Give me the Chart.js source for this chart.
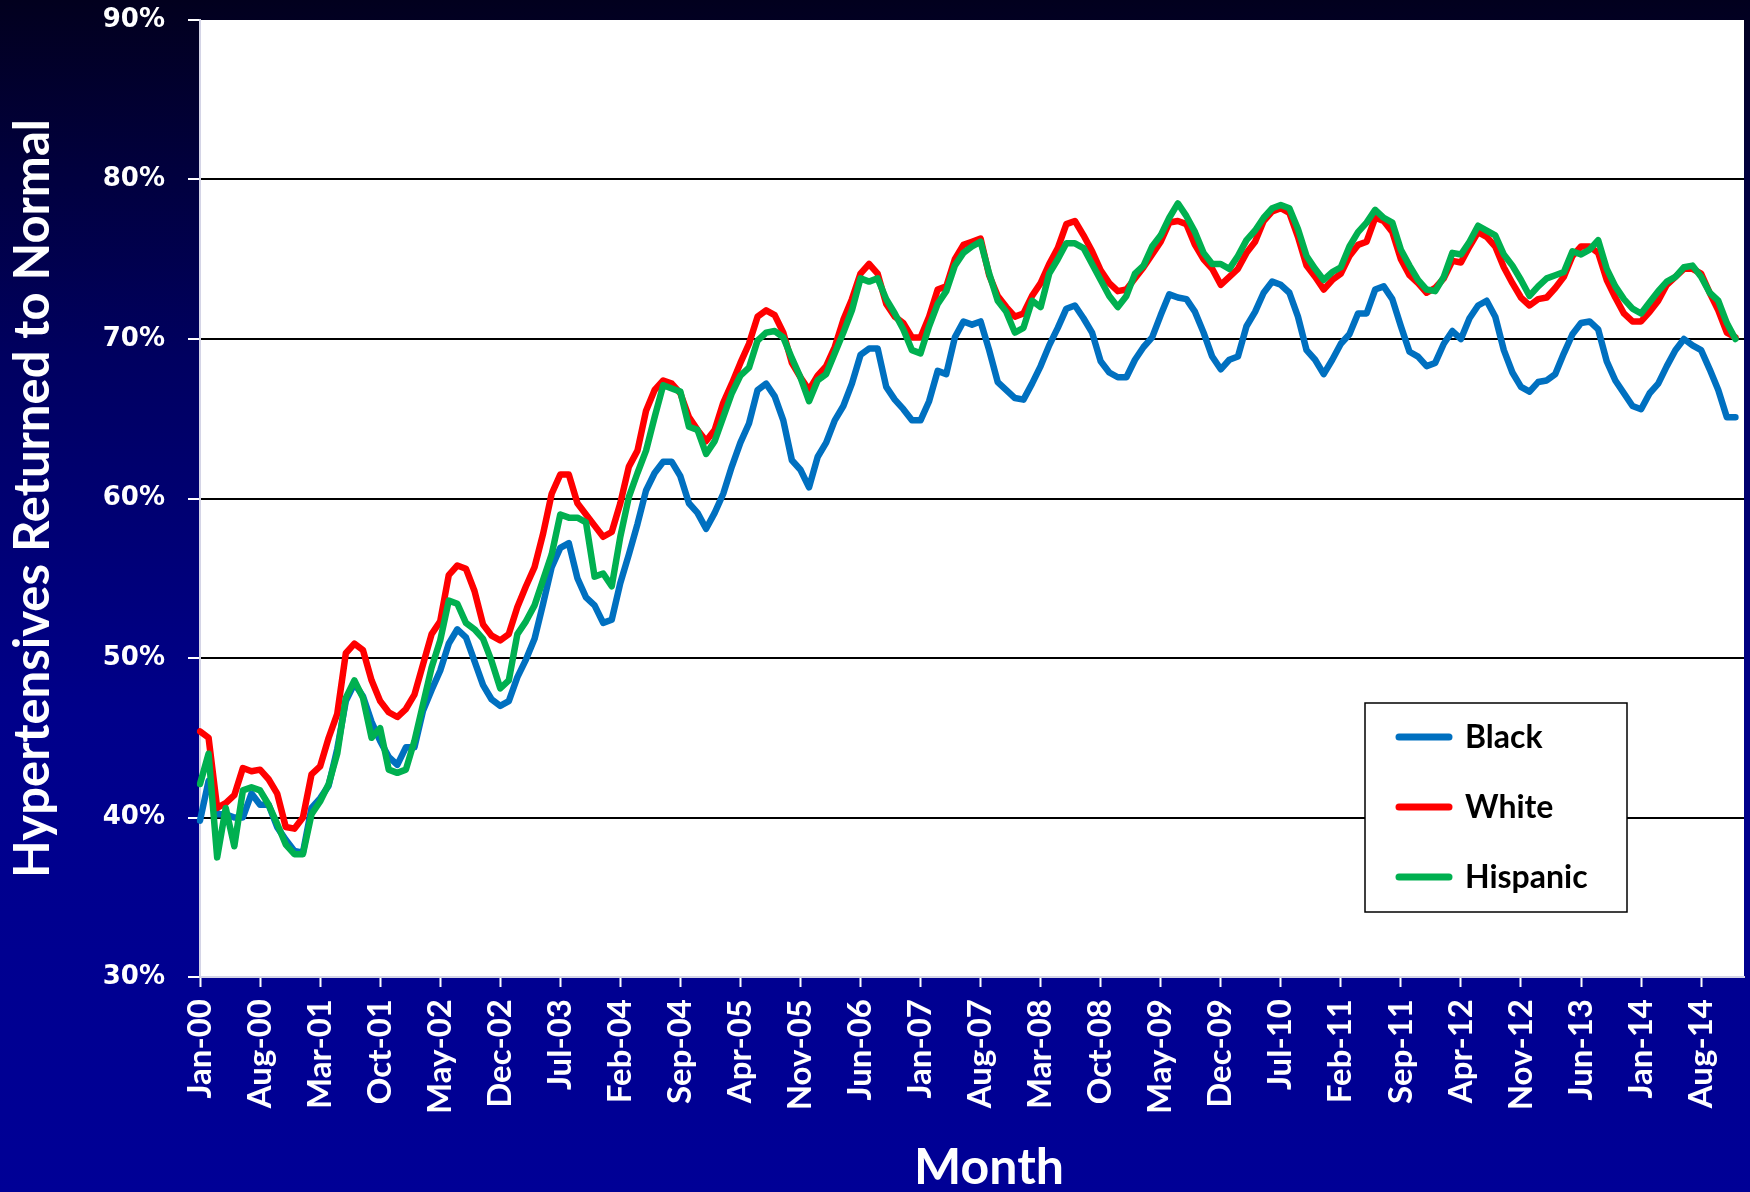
<!DOCTYPE html>
<html>
<head>
<meta charset="utf-8">
<script src="https://cdn.jsdelivr.net/npm/chart.js@4.4.1/dist/chart.umd.min.js"></script>
<style>
  html, body { margin: 0; padding: 0; }
  #wrap {
    width: 1750px; height: 1192px; position: relative;
    background: linear-gradient(to bottom, #02001e 0%, #000060 30%, #00008a 60%, #000096 100%);
  }
</style>
</head>
<body>
<div id="wrap"><canvas id="chart"></canvas></div>
<script>
var monthNames = ['Jan', 'Feb', 'Mar', 'Apr', 'May', 'Jun', 'Jul', 'Aug', 'Sep', 'Oct', 'Nov', 'Dec'];
var yearLabels = ['00', '01', '02', '03', '04', '05', '06', '07', '08', '09', '10', '11', '12', '13', '14', '15'];

// one row per year, Jan..Dec
var black = [
    39.8, 42.3, 40.2, 40.2, 40.0, 40.0, 41.5, 40.8, 40.8, 39.4, 38.6, 37.9,
    37.8, 40.6, 41.2, 42.0, 44.3, 47.3, 48.4, 47.6, 46.0, 44.8, 43.8, 43.3,
    44.4, 44.4, 46.7, 48.0, 49.2, 50.9, 51.8, 51.3, 49.8, 48.3, 47.4, 47.0,
    47.3, 48.8, 49.9, 51.2, 53.4, 55.7, 56.9, 57.2, 55.0, 53.8, 53.3, 52.2,
    52.4, 54.7, 56.5, 58.4, 60.5, 61.6, 62.3, 62.3, 61.4, 59.7, 59.1, 58.1,
    59.1, 60.3, 62.0, 63.5, 64.7, 66.8, 67.2, 66.4, 64.9, 62.4, 61.8, 60.7,
    62.6, 63.5, 64.9, 65.8, 67.2, 69.0, 69.4, 69.4, 67.0, 66.2, 65.6, 64.9,
    64.9, 66.1, 68.0, 67.8, 70.1, 71.1, 70.9, 71.1, 69.3, 67.3, 66.8, 66.3,
    66.2, 67.2, 68.3, 69.6, 70.7, 71.9, 72.1, 71.3, 70.4, 68.6, 67.9, 67.6,
    67.6, 68.7, 69.5, 70.1, 71.5, 72.8, 72.6, 72.5, 71.7, 70.4, 68.9, 68.1,
    68.7, 68.9, 70.8, 71.7, 72.9, 73.6, 73.4, 72.9, 71.4, 69.3, 68.7, 67.8,
    68.7, 69.7, 70.3, 71.6, 71.6, 73.1, 73.3, 72.5, 70.8, 69.2, 68.9, 68.3,
    68.5, 69.7, 70.5, 70.0, 71.3, 72.1, 72.4, 71.4, 69.3, 67.9, 67.0, 66.7,
    67.3, 67.4, 67.8, 69.1, 70.3, 71.0, 71.1, 70.6, 68.6, 67.4, 66.6, 65.8,
    65.6, 66.6, 67.2, 68.3, 69.3, 70.0, 69.6, 69.3, 68.1, 66.8, 65.1, 65.1
];
var white = [
    45.4, 45.0, 40.6, 40.9, 41.4, 43.1, 42.9, 43.0, 42.4, 41.5, 39.4, 39.3,
    40.0, 42.7, 43.2, 45.0, 46.5, 50.3, 50.9, 50.5, 48.6, 47.3, 46.6, 46.3,
    46.8, 47.7, 49.6, 51.5, 52.3, 55.2, 55.8, 55.6, 54.2, 52.1, 51.4, 51.1,
    51.5, 53.2, 54.5, 55.7, 57.8, 60.3, 61.5, 61.5, 59.7, 59.0, 58.3, 57.6,
    57.9, 59.7, 62.0, 63.0, 65.5, 66.8, 67.4, 67.2, 66.6, 65.1, 64.3, 63.6,
    64.3, 66.0, 67.2, 68.5, 69.7, 71.4, 71.8, 71.5, 70.4, 68.5, 67.6, 66.8,
    67.7, 68.3, 69.5, 71.2, 72.5, 74.1, 74.7, 74.1, 72.2, 71.4, 71.0, 70.1,
    70.1, 71.4, 73.1, 73.3, 75.0, 75.9, 76.1, 76.3, 74.0, 72.7, 72.0, 71.4,
    71.6, 72.7, 73.5, 74.7, 75.7, 77.2, 77.4, 76.5, 75.5, 74.3, 73.5, 73.0,
    73.1, 73.8, 74.5, 75.3, 76.1, 77.3, 77.4, 77.2, 75.9, 75.0, 74.4, 73.4,
    73.9, 74.4, 75.4, 76.1, 77.4, 78.0, 78.2, 77.9, 76.4, 74.6, 73.9, 73.1,
    73.7, 74.1, 75.2, 75.9, 76.1, 77.6, 77.4, 76.7, 75.0, 74.0, 73.5, 72.9,
    73.2, 73.8, 74.9, 74.8, 75.8, 76.7, 76.4, 75.8, 74.5, 73.5, 72.6, 72.1,
    72.5, 72.6, 73.2, 73.9, 75.2, 75.8, 75.8, 75.4, 73.7, 72.6, 71.6, 71.1,
    71.1, 71.7, 72.4, 73.4, 73.9, 74.4, 74.4, 74.1, 72.9, 71.8, 70.4, 70.1
];
var hispanic = [
    42.1, 44.0, 37.5, 40.6, 38.2, 41.7, 41.9, 41.7, 40.8, 39.6, 38.3, 37.7,
    37.7, 40.2, 41.0, 42.1, 44.0, 47.5, 48.6, 47.5, 45.0, 45.6, 43.0, 42.8,
    43.0, 44.8, 47.1, 49.4, 51.1, 53.6, 53.4, 52.2, 51.8, 51.2, 49.8, 48.1,
    48.6, 51.5, 52.3, 53.3, 54.9, 56.5, 59.0, 58.8, 58.8, 58.5, 55.1, 55.3,
    54.5, 57.6, 60.1, 61.6, 63.0, 65.1, 67.1, 66.9, 66.7, 64.5, 64.3, 62.8,
    63.6, 65.1, 66.6, 67.7, 68.2, 69.9, 70.4, 70.5, 70.1, 68.8, 67.6, 66.1,
    67.4, 67.8, 69.1, 70.4, 71.8, 73.8, 73.6, 73.8, 72.5, 71.6, 70.6, 69.3,
    69.1, 70.8, 72.2, 73.0, 74.6, 75.4, 75.8, 76.1, 74.1, 72.4, 71.7, 70.4,
    70.7, 72.4, 72.0, 74.1, 75.0, 76.0, 76.0, 75.7, 74.7, 73.7, 72.7, 72.0,
    72.7, 74.1, 74.6, 75.8, 76.5, 77.6, 78.5, 77.7, 76.7, 75.4, 74.7, 74.7,
    74.4, 75.2, 76.2, 76.8, 77.6, 78.2, 78.4, 78.2, 76.9, 75.2, 74.4, 73.7,
    74.2, 74.5, 75.8, 76.7, 77.3, 78.1, 77.6, 77.3, 75.6, 74.6, 73.7, 73.1,
    73.0, 73.9, 75.4, 75.3, 76.1, 77.1, 76.8, 76.5, 75.3, 74.6, 73.7, 72.7,
    73.3, 73.8, 74.0, 74.2, 75.5, 75.3, 75.6, 76.2, 74.4, 73.3, 72.5, 71.9,
    71.6, 72.3, 73.0, 73.6, 73.9, 74.5, 74.6, 73.9, 72.9, 72.4, 71.0, 70.0
];

var seriesNames = ['Black', 'White', 'Hispanic'];
var seriesColors = ['#0070C0', '#FF0000', '#00B050'];
var yMin = 30, yMax = 90, yStep = 10;
var labelEvery = 7;
var xTitle = 'Month';
var yTitle = 'Hypertensives Returned to Normal';

// Jan-00 ... Jan-15 (axis runs one month past the last point)
var labels = [];
yearLabels.forEach(function (yr) {
    monthNames.forEach(function (m) {
        labels.push(m + '-' + yr);
    });
});
labels = labels.slice(0, black.length + 1);

var plotBackground = {
    id: 'plotBackground',
    beforeDraw: function (chart) {
        var a = chart.chartArea;
        chart.ctx.save();
        chart.ctx.fillStyle = '#ffffff';
        chart.ctx.fillRect(a.left, a.top, a.right - a.left, a.bottom - a.top);
        chart.ctx.restore();
    }
};

// legend box inside the plot + x axis title (sits a bit right of centre)
var overlay = {
    id: 'overlay',
    afterDraw: function (chart) {
        var ctx = chart.ctx, a = chart.chartArea;
        var w = 262, h = 209;
        var x = a.right - 117 - w, y = a.bottom - 65 - h;
        ctx.save();
        ctx.fillStyle = '#ffffff';
        ctx.fillRect(x, y, w, h);
        ctx.strokeStyle = '#000000';
        ctx.lineWidth = 1.5;
        ctx.strokeRect(x, y, w, h);
        chart.data.datasets.forEach(function (ds, i) {
            var cy = y + 34 + i * 70;
            ctx.strokeStyle = ds.borderColor;
            ctx.lineWidth = 7;
            ctx.lineCap = 'round';
            ctx.beginPath();
            ctx.moveTo(x + 34, cy);
            ctx.lineTo(x + 84, cy);
            ctx.stroke();
            ctx.fillStyle = '#000000';
            ctx.font = 'bold 32px Lato';
            ctx.textBaseline = 'middle';
            ctx.fillText(ds.label, x + 100, cy + 1);
        });

        ctx.fillStyle = '#ffffff';
        ctx.font = 'bold 50px Lato';
        ctx.textAlign = 'center';
        ctx.textBaseline = 'middle';
        ctx.fillText(xTitle, (a.left + a.right) / 2 + 17, 1168);
        ctx.restore();
    }
};

var seriesData = [black, white, hispanic];
var datasets = seriesData.map(function (d, i) {
    return {
        label: seriesNames[i],
        data: d,
        borderColor: seriesColors[i],
        backgroundColor: seriesColors[i],
        borderWidth: 6.5,
        order: 2 - i
    };
});

new Chart(document.getElementById('chart'), {
    type: 'line',
    data: { labels: labels, datasets: datasets },
    options: {
        responsive: true,
        maintainAspectRatio: false,
        animation: false,
        devicePixelRatio: 1,
        layout: { padding: { left: 0, right: 6, top: 20, bottom: 0 } },
        plugins: {
            legend: { display: false },
            tooltip: { enabled: false }
        },
        elements: {
            point: { radius: 0 },
            line: { borderWidth: 6.5, tension: 0, borderJoinStyle: 'round', borderCapStyle: 'round' }
        },
        scales: {
            x: {
                type: 'category',
                offset: false,
                grid: { drawOnChartArea: false, drawTicks: true, tickLength: 10, tickColor: '#ffffff', tickWidth: 2 },
                border: { display: true, color: '#d4d4e6', width: 2 },
                ticks: {
                    autoSkip: false, maxRotation: 90, minRotation: 90, padding: 12,
                    color: '#ffffff',
                    font: { family: 'Lato', weight: 'bold', size: 33 }
                },
                afterBuildTicks: function (axis) {
                    axis.ticks = axis.ticks.filter(function (t) { return t.value % labelEvery === 0; });
                },
                afterFit: function (axis) {
                    axis.height = 215;
                    axis.paddingLeft = 0;
                    axis.paddingRight = 0;
                }
            },
            y: {
                min: yMin, max: yMax,
                ticks: {
                    stepSize: yStep, padding: 23, color: '#ffffff',
                    font: { family: 'DejaVu Sans', weight: 'bold', size: 26 },
                    callback: function (v) { return v + '%'; }
                },
                grid: {
                    color: function (c) {
                        return (c.tick && (c.tick.value === yMin || c.tick.value === yMax)) ? 'rgba(0,0,0,0)' : '#000000';
                    },
                    lineWidth: 2, tickLength: 12, tickColor: '#ffffff', tickWidth: 2
                },
                border: { display: true, color: '#d4d4e6', width: 2 },
                afterFit: function (axis) {
                    axis.width = 200;
                    axis.paddingTop = 0;
                    axis.paddingBottom = 0;
                },
                title: {
                    display: true, text: yTitle, color: '#ffffff',
                    font: { family: 'Lato', weight: 'bold', size: 49, lineHeight: 1 },
                    padding: { top: 9, bottom: 0 }
                }
            }
        }
    },
    plugins: [plotBackground, overlay]
});
</script>
</body>
</html>
